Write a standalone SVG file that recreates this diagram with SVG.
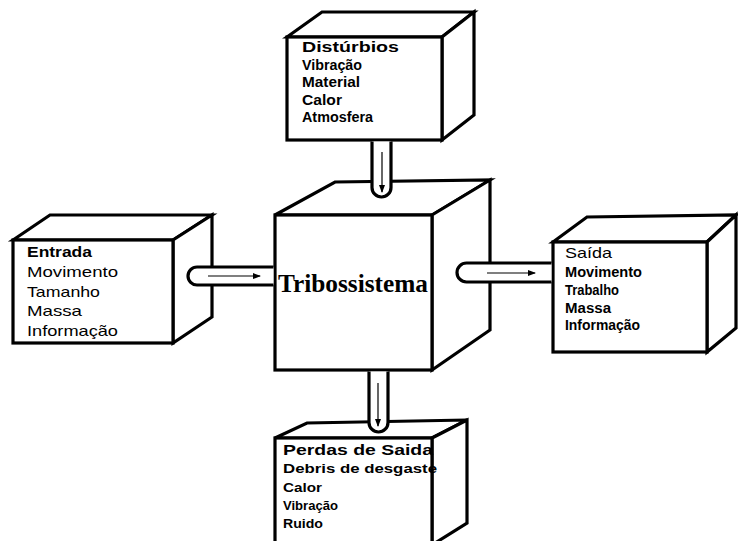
<svg xmlns="http://www.w3.org/2000/svg" width="738" height="541" viewBox="0 0 738 541">
<style>
.face{fill:#fff;stroke:#000;stroke-width:3.2;stroke-linejoin:miter}
.pipe{fill:#fff;stroke:#000;stroke-width:3.2}
.arr{stroke:#000;stroke-width:1.2;fill:none}
.t{font-family:"Liberation Sans",Arial,sans-serif;font-size:14px;fill:#000}
.s{font-size:13.5px}
.b{font-weight:bold}
.h{font-size:15px}
.tt{font-family:"Liberation Serif","Times New Roman",serif;font-size:25px;font-weight:bold;fill:#000}
</style>
<defs>
<marker id="ah" markerWidth="8" markerHeight="6" refX="7" refY="3" orient="auto" markerUnits="userSpaceOnUse">
<path d="M0,0 L8,3 L0,6 Z" fill="#000"/>
</marker>
</defs>
<rect width="738" height="541" fill="#fff"/>

<g id="perdas">
<polygon class="face" points="275,438 307,423 467,420 432,438"/>
<polygon class="face" points="432,438 467,420 467,523 432,545"/>
<rect class="face" x="275" y="438" width="157" height="110"/>
<text class="t b h" x="283" y="455" textLength="150" lengthAdjust="spacingAndGlyphs">Perdas de Saida</text>
<text class="t b s" x="283" y="473" textLength="154" lengthAdjust="spacingAndGlyphs">Debris de desgaste</text>
<text class="t b s" x="283" y="492" textLength="39" lengthAdjust="spacingAndGlyphs">Calor</text>
<text class="t b s" x="283" y="510" textLength="55" lengthAdjust="spacingAndGlyphs">Vibração</text>
<text class="t b s" x="283" y="528" textLength="40" lengthAdjust="spacingAndGlyphs">Ruido</text>
</g>

<g id="entrada">
<polygon class="face" points="13,240 50,215 212,215 173,240"/>
<polygon class="face" points="173,240 212,215 212,317 173,343"/>
<rect class="face" x="13" y="240" width="160" height="103"/>
<text class="t b h" x="27" y="257" textLength="65" lengthAdjust="spacingAndGlyphs">Entrada</text>
<text class="t h" x="27" y="277" textLength="91" lengthAdjust="spacingAndGlyphs">Movimento</text>
<text class="t h" x="27" y="297" textLength="73" lengthAdjust="spacingAndGlyphs">Tamanho</text>
<text class="t h" x="27" y="316" textLength="55" lengthAdjust="spacingAndGlyphs">Massa</text>
<text class="t h" x="27" y="336" textLength="91" lengthAdjust="spacingAndGlyphs">Informação</text>
</g>

<g id="tribossistema">
<polygon class="face" points="275,215 335,182 490,180 432,215"/>
<polygon class="face" points="432,215 490,180 490,330 432,370"/>
<rect class="face" x="275" y="215" width="157" height="155"/>
<text class="tt" x="278" y="292" textLength="150" lengthAdjust="spacingAndGlyphs">Tribossistema</text>
</g>

<g id="disturbios">
<polygon class="face" points="287,37 322,12 474,12 442,37"/>
<polygon class="face" points="442,37 474,12 474,115 442,140"/>
<rect class="face" x="287" y="37" width="155" height="103"/>
<text class="t b h" x="302" y="52" textLength="97" lengthAdjust="spacingAndGlyphs">Distúrbios</text>
<text class="t b" x="302" y="70" textLength="60" lengthAdjust="spacingAndGlyphs">Vibração</text>
<text class="t b" x="302" y="87" textLength="58" lengthAdjust="spacingAndGlyphs">Material</text>
<text class="t b" x="302" y="105" textLength="40" lengthAdjust="spacingAndGlyphs">Calor</text>
<text class="t b" x="302" y="122" textLength="71" lengthAdjust="spacingAndGlyphs">Atmosfera</text>
</g>

<g id="saida">
<polygon class="face" points="553,242 587,217 736,215 707,242"/>
<polygon class="face" points="707,242 736,215 736,328 707,352"/>
<rect class="face" x="553" y="242" width="154" height="110"/>
<text class="t h" x="565" y="258" textLength="47" lengthAdjust="spacingAndGlyphs">Saída</text>
<text class="t b" x="565" y="277" textLength="77" lengthAdjust="spacingAndGlyphs">Movimento</text>
<text class="t b" x="565" y="295" textLength="54" lengthAdjust="spacingAndGlyphs">Trabalho</text>
<text class="t b" x="565" y="313" textLength="46" lengthAdjust="spacingAndGlyphs">Massa</text>
<text class="t b" x="565" y="330" textLength="75" lengthAdjust="spacingAndGlyphs">Informação</text>
</g>

<g id="connectors">
<path class="pipe" d="M372,141.5 L372,187.5 A9.5,9.5 0 0 0 391,187.5 L391,141.5"/>
<line class="arr" x1="382" y1="152" x2="382" y2="192" marker-end="url(#ah)"/>
<path class="pipe" d="M273.5,267 L197,267 A9,9 0 0 0 197,285 L273.5,285"/>
<line class="arr" x1="208" y1="276" x2="260" y2="276" marker-end="url(#ah)"/>
<path class="pipe" d="M551.5,263 L466.5,263 A9.5,9.5 0 0 0 466.5,282 L551.5,282"/>
<line class="arr" x1="487" y1="273" x2="535" y2="273" marker-end="url(#ah)"/>
<path class="pipe" d="M369,371.5 L369,422.5 A9.5,9.5 0 0 0 388,422.5 L388,371.5"/>
<line class="arr" x1="378" y1="383" x2="378" y2="426" marker-end="url(#ah)"/>
</g>
</svg>
